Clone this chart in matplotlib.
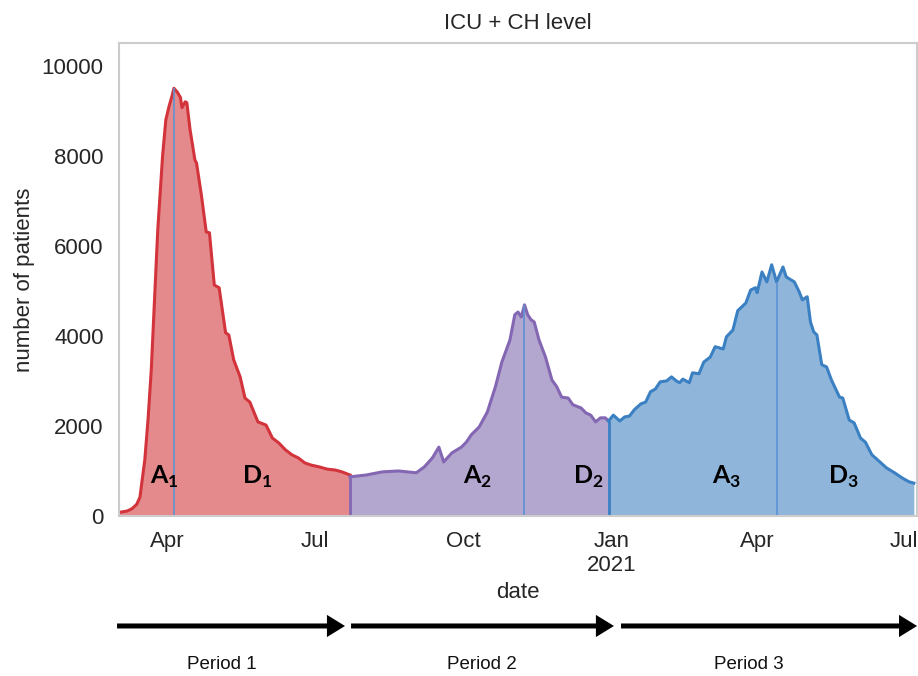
import numpy as np
import pandas as pd
import matplotlib
matplotlib.use('Agg')
import matplotlib.pyplot as plt
from matplotlib.patches import FancyArrowPatch

plt.rcParams['font.family'] = ['Liberation Sans', 'DejaVu Sans']
plt.rcParams['mathtext.fontset'] = 'custom'
plt.rcParams['mathtext.bf'] = 'Lato:bold'
plt.rcParams['mathtext.rm'] = 'Lato'

# %% data -------------------------------------------------------------------|
p1_dates = ['2020-03-02', '2020-03-07', '2020-03-10', '2020-03-13', '2020-03-15',
            '2020-03-16', '2020-03-18', '2020-03-20', '2020-03-22', '2020-03-24',
            '2020-03-26', '2020-03-29', '2020-03-31', '2020-04-02', '2020-04-04',
            '2020-04-05', '2020-04-07', '2020-04-09', '2020-04-10', '2020-04-12',
            '2020-04-13', '2020-04-15', '2020-04-18', '2020-04-19', '2020-04-22',
            '2020-04-25', '2020-04-27', '2020-04-30', '2020-05-03', '2020-05-07',
            '2020-05-09', '2020-05-12', '2020-05-16', '2020-05-19', '2020-05-22',
            '2020-05-27', '2020-06-01', '2020-06-05', '2020-06-09', '2020-06-13',
            '2020-06-17', '2020-06-21', '2020-06-25', '2020-06-29', '2020-07-04',
            '2020-07-09', '2020-07-14', '2020-07-18', '2020-07-23']
p1_vals = [80, 110, 160, 260, 420, 700, 1250, 2150, 3250, 4800,
           6350, 8000, 8800, 9100, 9350, 9500, 9420, 9300, 9070, 9200,
           9180, 8580, 7910, 7840, 7130, 6310, 6290, 5130, 5070, 4070,
           4020, 3470, 3090, 2620, 2530, 2090, 2020, 1730, 1620, 1470,
           1360, 1290, 1180, 1130, 1090, 1040, 1020, 980, 910]

p2_dates = ['2020-07-23', '2020-08-02', '2020-08-12', '2020-08-22', '2020-09-02',
            '2020-09-07', '2020-09-12', '2020-09-16', '2020-09-19', '2020-09-24',
            '2020-09-30', '2020-10-03', '2020-10-06', '2020-10-11', '2020-10-16',
            '2020-10-21', '2020-10-25', '2020-10-30', '2020-11-02', '2020-11-04',
            '2020-11-06', '2020-11-08', '2020-11-10', '2020-11-12', '2020-11-14',
            '2020-11-17', '2020-11-21', '2020-11-25', '2020-11-28', '2020-12-01',
            '2020-12-05', '2020-12-08', '2020-12-13', '2020-12-16', '2020-12-19',
            '2020-12-22', '2020-12-25', '2020-12-28', '2020-12-30']
p2_vals = [870, 910, 980, 1000, 960, 1090, 1290, 1530, 1200, 1400,
           1530, 1640, 1800, 1980, 2310, 2870, 3420, 3910, 4470, 4530,
           4420, 4690, 4470, 4360, 4310, 3910, 3530, 3020, 2870, 2640,
           2620, 2470, 2400, 2290, 2240, 2090, 2180, 2180, 2110]

p3_dates = ['2020-12-30', '2021-01-02', '2021-01-06', '2021-01-09', '2021-01-12',
            '2021-01-15', '2021-01-19', '2021-01-22', '2021-01-25', '2021-01-28',
            '2021-01-31', '2021-02-04', '2021-02-07', '2021-02-10', '2021-02-12',
            '2021-02-14', '2021-02-18', '2021-02-20', '2021-02-24', '2021-02-27',
            '2021-03-03', '2021-03-06', '2021-03-11', '2021-03-13', '2021-03-17',
            '2021-03-20', '2021-03-25', '2021-03-28', '2021-03-31', '2021-04-01',
            '2021-04-04', '2021-04-07', '2021-04-10', '2021-04-13', '2021-04-17',
            '2021-04-19', '2021-04-24', '2021-04-27', '2021-04-29', '2021-05-02',
            '2021-05-04', '2021-05-06', '2021-05-08', '2021-05-11', '2021-05-14',
            '2021-05-17', '2021-05-22', '2021-05-24', '2021-05-28', '2021-05-31',
            '2021-06-04', '2021-06-07', '2021-06-11', '2021-06-16', '2021-06-20',
            '2021-06-25', '2021-06-30', '2021-07-04', '2021-07-07']
p3_vals = [2110, 2240, 2110, 2200, 2220, 2360, 2490, 2530, 2760, 2820,
           2980, 3000, 3090, 3000, 2960, 3040, 2960, 3180, 3160, 3420,
           3530, 3760, 3710, 3980, 4130, 4560, 4730, 5020, 5070, 4960,
           5420, 5200, 5580, 5200, 5530, 5310, 5200, 4980, 4800, 4870,
           4310, 4090, 4020, 3360, 3310, 3020, 2640, 2620, 2130, 2070,
           1730, 1640, 1360, 1200, 1070, 960, 840, 760, 730]

peak_dates = ['2020-04-05', '2020-11-08', '2021-04-13']
peak_vals = [9500, 4690, 5200]

tick_dates = ['2020-04-01', '2020-07-01', '2020-10-01', '2021-01-01',
              '2021-04-01', '2021-07-01']
tick_labels = ['Apr', 'Jul', 'Oct', 'Jan\n2021', 'Apr', 'Jul']

phase_labels = [r'$\mathbf{A}_\mathbf{1}$', r'$\mathbf{D}_\mathbf{1}$',
                r'$\mathbf{A}_\mathbf{2}$', r'$\mathbf{D}_\mathbf{2}$',
                r'$\mathbf{A}_\mathbf{3}$', r'$\mathbf{D}_\mathbf{3}$']
phase_dates = ['2020-03-21', '2020-05-17', '2020-10-01', '2020-12-08',
               '2021-03-04', '2021-05-15']
period_labels = ['Period 1', 'Period 2', 'Period 3']

# %% figure -----------------------------------------------------------------|
fig = plt.figure(figsize=(9.18, 6.76), dpi=100)
ax = fig.add_axes([0.1296, 0.2367, 0.8694, 0.6993])

styles = [('#e48a8c', '#d3333b'), ('#b3a6cf', '#8467b2'), ('#8fb6da', '#3a80c2')]
for (d, v), (fc, lc) in zip([(p1_dates, p1_vals), (p2_dates, p2_vals),
                             (p3_dates, p3_vals)], styles):
    d = pd.to_datetime(d)
    ax.fill_between(d, v, 0, color=fc, lw=0)
    ax.plot(d, v, color=lc, lw=2.2)

# boundaries between periods
ax.vlines(pd.to_datetime(p2_dates[0]), 0, p2_vals[0], color='#8467b2', lw=2)
ax.vlines(pd.to_datetime(p3_dates[0]), 0, p3_vals[0], color='#3a80c2', lw=2)
# peaks
ax.vlines(pd.to_datetime(peak_dates), 0, peak_vals, color='#5b93d3', lw=1.2)

for lab, d in zip(phase_labels, phase_dates):
    ax.text(pd.Timestamp(d), 720, lab, fontsize=18, ha='left', va='baseline',
            color='black')

ax.set_xlim(pd.Timestamp('2020-03-02'), pd.Timestamp('2021-07-09'))
ax.set_ylim(0, 10500)
ax.set_xticks(pd.to_datetime(tick_dates))
ax.set_xticklabels(tick_labels)
ax.set_yticks([0, 2000, 4000, 6000, 8000, 10000])
ax.tick_params(length=0, labelsize=16, colors='#262626', pad=11)
for s in ax.spines.values():
    s.set_color('#cccccc')
    s.set_linewidth(1.5)
ax.set_title('ICU + CH level', fontsize=16, color='#262626', pad=10)
ax.set_xlabel('date', fontsize=16, color='#262626', labelpad=4)
ax.set_ylabel('number of patients', fontsize=16, color='#262626', labelpad=5)

# %% period arrows ----------------------------------------------------------|
arrow_x = [(0.1275, 0.3758), (0.3824, 0.6688), (0.6765, 0.999)]
label_x = [0.2418, 0.525, 0.816]
for (x0, x1), xl, lab in zip(arrow_x, label_x, period_labels):
    arr = FancyArrowPatch((x0, 0.074), (x1, 0.074), transform=fig.transFigure,
                          arrowstyle='simple,head_length=0.65,head_width=0.8,tail_width=0.18',
                          mutation_scale=20, color='black', lw=0,
                          shrinkA=0, shrinkB=0)
    fig.add_artist(arr)
    fig.text(xl, 0.0163, lab, fontsize=13.5, ha='center', va='center',
             color='#111111')

plt.savefig('out.png', dpi=100)
